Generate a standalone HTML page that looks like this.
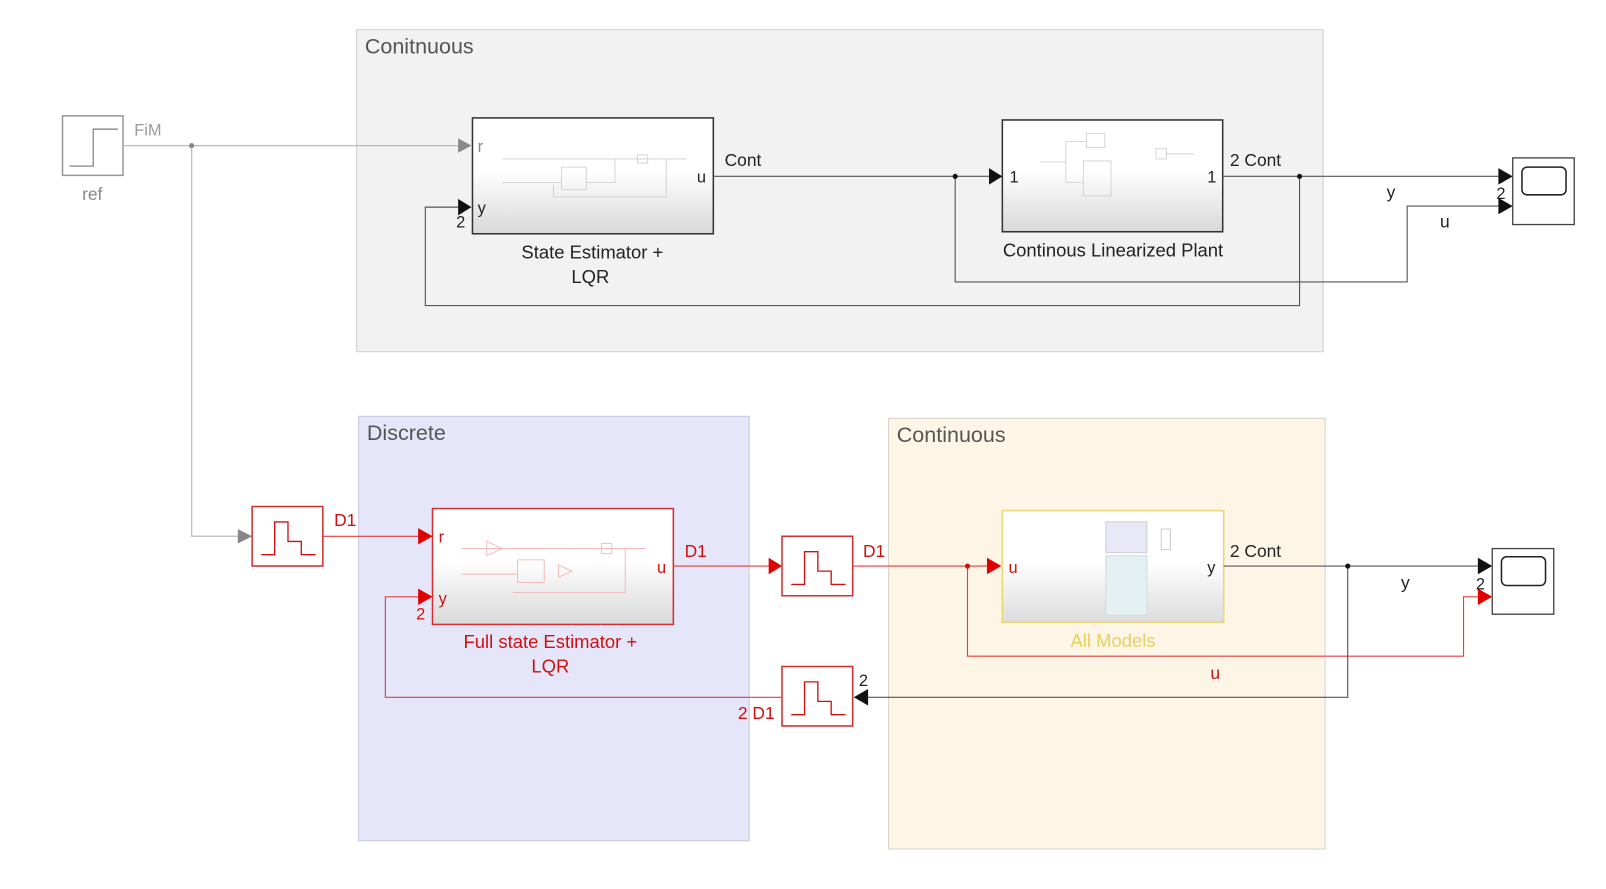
<!DOCTYPE html>
<html><head><meta charset="utf-8"><style>
html,body{margin:0;padding:0;background:#fff;width:1606px;height:889px;overflow:hidden}
svg{display:block}
text{font-family:"Liberation Sans",sans-serif}
</style></head><body>
<svg width="1606" height="889" viewBox="0 0 1567 867" preserveAspectRatio="none" xmlns="http://www.w3.org/2000/svg">
<defs>
<linearGradient id="g" x1="0" y1="0" x2="0" y2="1"><stop offset="0.45" stop-color="#fff"/><stop offset="1" stop-color="#d9d9d9"/></linearGradient>
<linearGradient id="gy" x1="0" y1="0" x2="0" y2="1"><stop offset="0.45" stop-color="#fff"/><stop offset="1" stop-color="#dcdcdc"/></linearGradient>
</defs>
<rect x="348" y="29" width="943" height="314" fill="#f2f2f2" stroke="#cfcfcf"/>
<text x="356" y="52" font-size="21" fill="#555">Conitnuous</text>
<rect x="350" y="406" width="381" height="414" fill="#e6e6fa" stroke="#c8c8dc"/>
<text x="358" y="429" font-size="21" fill="#555">Discrete</text>
<rect x="867" y="408" width="426" height="420" fill="#fdf5e6" stroke="#d8d2c8"/>
<text x="875" y="431" font-size="21" fill="#555">Continuous</text>

<rect x="61" y="113" width="59" height="58" fill="#fff" stroke="#999" stroke-width="1.5"/>
<polyline points="68,162 91,162 91,126 115,126" fill="none" stroke="#999" stroke-width="1.5"/>
<text x="90" y="195" font-size="17" fill="#888" text-anchor="middle">ref</text>
<text x="131" y="132" font-size="16" fill="#999">FiM</text>
<g stroke="#bbb" fill="none" stroke-width="1.2">
<polyline points="120,142 447,142"/>
<polyline points="187,142 187,523 232,523"/>
</g>
<circle cx="187" cy="142" r="2.5" fill="#888"/>
<polygon points="447,135 460,142 447,149" fill="#888"/>
<polygon points="232,516 246,523 232,530" fill="#888"/>

<rect x="461" y="115" width="235" height="113" fill="url(#g)" stroke="#333" stroke-width="1.5"/>
<g stroke="#ccc" fill="none" stroke-width="0.8">
<polyline points="490,155 600,155"/><rect x="548" y="163" width="24" height="22"/><polyline points="490,178 548,178"/><polyline points="572,178 600,178 600,155 670,155"/><rect x="622" y="151" width="10" height="8"/><polyline points="650,155 650,192 540,192 540,180"/>
</g>
<text x="466" y="148" font-size="16" fill="#888">r</text>
<text x="466" y="208" font-size="16" fill="#222">y</text>
<text x="680" y="178" font-size="16" fill="#222">u</text>
<text x="445" y="222" font-size="16" fill="#222">2</text>
<text x="578" y="252" font-size="18" fill="#222" text-anchor="middle">State Estimator +</text>
<text x="576" y="276" font-size="18" fill="#222" text-anchor="middle">LQR</text>

<rect x="978" y="117" width="215" height="109" fill="url(#g)" stroke="#333" stroke-width="1.5"/>
<g stroke="#ccc" fill="none" stroke-width="0.8">
<polyline points="1015,158 1040,158 1040,138 1060,138"/><rect x="1060" y="130" width="18" height="14"/><rect x="1057" y="157" width="27" height="34"/><polyline points="1040,158 1040,178 1057,178"/><rect x="1128" y="145" width="10" height="10"/><polyline points="1138,150 1165,150"/>
</g>
<text x="985" y="178" font-size="16" fill="#222">1</text>
<text x="1178" y="178" font-size="16" fill="#222">1</text>
<text x="1086" y="250" font-size="18" fill="#222" text-anchor="middle">Continous Linearized Plant</text>
<text x="1200" y="162" font-size="17" fill="#222">2 Cont</text>
<text x="707" y="162" font-size="17" fill="#222">Cont</text>

<g stroke="#555" fill="none" stroke-width="1.1">
<polyline points="696,172 965,172"/>
<polyline points="1193,172 1462,172"/>
<polyline points="1268,172 1268,298 415,298 415,202 447,202"/>
<polyline points="932,172 932,275 1373,275 1373,201 1462,201"/>
</g>
<circle cx="932" cy="172" r="2.5" fill="#111"/><circle cx="1268" cy="172" r="2.5" fill="#111"/>
<polygon points="965,164 978,172 965,180" fill="#111"/>
<polygon points="447,194 460,202 447,210" fill="#111"/>
<polygon points="1462,164 1476,172 1462,180" fill="#111"/>
<polygon points="1462,193 1476,201 1462,209" fill="#111"/>
<text x="1353" y="193" font-size="17" fill="#222">y</text>
<text x="1405" y="222" font-size="17" fill="#222">u</text>
<text x="1460" y="194" font-size="16" fill="#222">2</text>
<rect x="1476" y="154" width="60" height="65" fill="#fff" stroke="#444" stroke-width="1.3"/>
<rect x="1485" y="163" width="43" height="27" rx="5" fill="#fff" stroke="#222" stroke-width="1.5"/>

<g fill="#fff" stroke="#d03030" stroke-width="1.5">
<rect x="246" y="494" width="69" height="58"/>
<rect x="763" y="523" width="69" height="58"/>
<rect x="763" y="650" width="69" height="58"/>
</g>
<g fill="none" stroke="#d01010" stroke-width="1.3">
<polyline points="255,541 268,541 268,509 281,509 281,528 294,528 294,541 308,541"/>
<polyline points="772,570 785,570 785,538 798,538 798,557 811,557 811,570 825,570"/>
<polyline points="772,697 785,697 785,665 798,665 798,684 811,684 811,697 825,697"/>
</g>
<rect x="422" y="496" width="235" height="113" fill="url(#g)" stroke="#d03030" stroke-width="1.5"/>
<g stroke="#f0b0b0" fill="none" stroke-width="0.8">
<polyline points="450,535 560,535"/><polygon points="475,528 490,535 475,542"/><rect x="505" y="546" width="26" height="22"/><polyline points="450,560 505,560"/><polygon points="545,551 558,557 545,563"/><polyline points="560,535 630,535"/><rect x="587" y="530" width="10" height="10"/><polyline points="610,535 610,578 500,578"/>
</g>
<text x="428" y="529" font-size="16" fill="#d01010">r</text>
<text x="428" y="589" font-size="16" fill="#d01010">y</text>
<text x="641" y="559" font-size="16" fill="#d01010">u</text>
<text x="406" y="604" font-size="16" fill="#d01010">2</text>
<text x="537" y="632" font-size="18" fill="#d01010" text-anchor="middle">Full state Estimator +</text>
<text x="537" y="656" font-size="18" fill="#d01010" text-anchor="middle">LQR</text>
<text x="326" y="513" font-size="17" fill="#d01010">D1</text>
<text x="668" y="543" font-size="17" fill="#d01010">D1</text>
<text x="842" y="543" font-size="17" fill="#d01010">D1</text>
<text x="720" y="701" font-size="17" fill="#d01010">2 D1</text>
<text x="838" y="669" font-size="16" fill="#222">2</text>

<rect x="978" y="498" width="216" height="109" fill="url(#gy)" stroke="#e8d878" stroke-width="1.6"/>
<rect x="1079" y="509" width="40" height="30" fill="#e8e8f6" stroke="#ccd"/>
<rect x="1079" y="542" width="40" height="58" fill="#e4f0f2" stroke="#cdd"/>
<rect x="1133" y="516" width="9" height="20" fill="#fff" stroke="#ccc"/>
<text x="984" y="559" font-size="16" fill="#d01010">u</text>
<text x="1178" y="559" font-size="16" fill="#222">y</text>
<text x="1086" y="631" font-size="18" fill="#e6d060" text-anchor="middle">All Models</text>
<text x="1200" y="543" font-size="17" fill="#222">2 Cont</text>

<g stroke="#e04040" fill="none" stroke-width="1.1">
<polyline points="315,523 408,523"/>
<polyline points="657,552 750,552"/>
<polyline points="832,552 963,552"/>
<polyline points="944,552 944,640 1428,640 1428,582 1442,582"/>
<polyline points="763,680 376,680 376,582 408,582"/>
</g>
<g stroke="#555" fill="none" stroke-width="1.1">
<polyline points="1194,552 1442,552"/>
<polyline points="1315,552 1315,680 846,680"/>
</g>
<circle cx="944" cy="552" r="2.5" fill="#d01010"/><circle cx="1315" cy="552" r="2.5" fill="#111"/>
<g fill="#e00000">
<polygon points="408,515 422,523 408,531"/>
<polygon points="408,574 422,582 408,590"/>
<polygon points="750,544 763,552 750,560"/>
<polygon points="963,544 977,552 963,560"/>
<polygon points="1442,574 1456,582 1442,590"/>
</g>
<polygon points="1442,544 1456,552 1442,560" fill="#111"/>
<polygon points="847,672 833,680 847,688" fill="#111"/>
<text x="1367" y="574" font-size="17" fill="#222">y</text>
<text x="1181" y="662" font-size="17" fill="#d01010">u</text>
<text x="1440" y="575" font-size="16" fill="#222">2</text>
<rect x="1456" y="535" width="60" height="64" fill="#fff" stroke="#444" stroke-width="1.3"/>
<rect x="1465" y="543" width="43" height="28" rx="5" fill="#fff" stroke="#222" stroke-width="1.5"/>
</svg>
</body></html>
